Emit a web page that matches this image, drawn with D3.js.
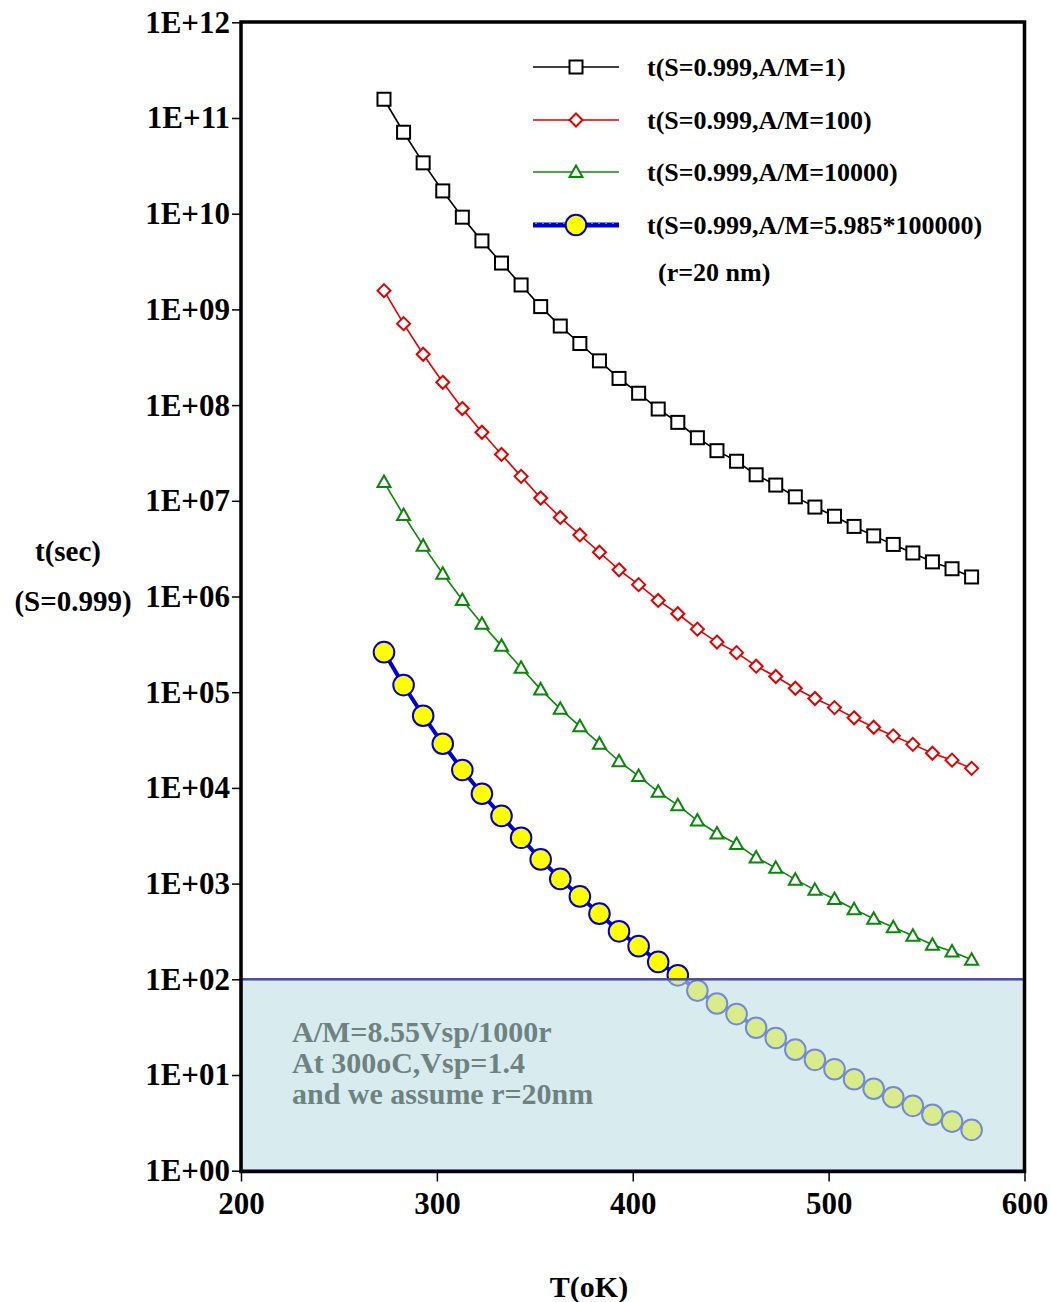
<html>
<head>
<style>
  body { margin: 0; background: #fff; }
  svg text { font-family: "Liberation Serif", "Times New Roman", serif; font-weight: bold; }
</style>
</head>
<body>
<script src="https://d3js.org/d3.v7.min.js"></script>
<svg id="chart"></svg>
<script>
// temperatures (K)
var temps = [273, 283, 293, 303, 313, 323, 333, 343, 353, 363, 373, 383, 393, 403, 413, 423,
             433, 443, 453, 463, 473, 483, 493, 503, 513, 523, 533, 543, 553, 563, 573];

// t(sec) for S=0.999
var tAM1 = [1.57e11, 7.1e10, 3.4e10, 1.73e10, 9.2e9, 5.2e9, 3.05e9, 1.8e9, 1.07e9, 6.7e8, 4.4e8,
            2.9e8, 1.9e8, 1.33e8, 9.1e7, 6.6e7, 4.56e7, 3.34e7, 2.59e7, 1.87e7, 1.46e7, 1.1e7,
            8.6e6, 6.9e6, 5.4e6, 4.3e6, 3.5e6, 2.85e6, 2.3e6, 1.95e6, 1.6e6];
var tAM100 = [1.57e9, 7.1e8, 3.4e8, 1.73e8, 9.2e7, 5.2e7, 3.05e7, 1.8e7, 1.07e7, 6.7e6, 4.4e6,
              2.9e6, 1.9e6, 1.33e6, 9.1e5, 6.6e5, 4.56e5, 3.34e5, 2.59e5, 1.87e5, 1.46e5, 1.1e5,
              8.6e4, 6.9e4, 5.4e4, 4.3e4, 3.5e4, 2.85e4, 2.3e4, 1.95e4, 1.6e4];
var tAM10000 = [1.57e7, 7.1e6, 3.4e6, 1.73e6, 9.2e5, 5.2e5, 3.05e5, 1.8e5, 1.07e5, 6.7e4, 4.4e4,
                2.9e4, 1.9e4, 1.33e4, 9.1e3, 6.6e3, 4.56e3, 3.34e3, 2.59e3, 1.87e3, 1.46e3, 1.1e3,
                860, 690, 540, 430, 350, 285, 230, 195, 160];
var tAMbig = [2.62e5, 1.186e5, 5.68e4, 2.89e4, 1.537e4, 8.69e3, 5.10e3, 3.01e3, 1.79e3, 1.12e3, 735,
              485, 317, 222, 152, 110, 76.2, 55.8, 43.3, 31.2, 24.4, 18.4,
              14.4, 11.5, 9.02, 7.18, 5.85, 4.76, 3.84, 3.26, 2.67];

var xTicks = [200, 300, 400, 500, 600];
var yExps = [0, 1, 2, 3, 4, 5, 6, 7, 8, 9, 10, 11, 12];

var legendLabels = ["t(S=0.999,A/M=1)", "t(S=0.999,A/M=100)", "t(S=0.999,A/M=10000)",
                    "t(S=0.999,A/M=5.985*100000)"];
var noteLines = ["A/M=8.55Vsp/1000r", "At 300oC,Vsp=1.4", "and we assume r=20nm"];

var width = 1050, height = 1302;
var svg = d3.select("#chart").attr("width", width).attr("height", height);

var x = d3.scaleLinear().domain([200, 600]).range([241, 1024.5]);
var y = d3.scaleLog().domain([1, 1e12]).range([1170.7, 22.3]);

var series = [
  { vals: tAM1, color: "#000000", shape: "square", lw: 1.6 },
  { vals: tAM100, color: "#e00000", shape: "diamond", lw: 1.6 },
  { vals: tAM10000, color: "#0a870a", shape: "triangle", lw: 1.6 },
  { vals: tAMbig, color: "#0000cc", shape: "circle", lw: 4 }
];

function marker(g, shape, color, cx, cy) {
  if (shape == "square") {
    g.append("rect").attr("x", cx - 6.5).attr("y", cy - 6.5).attr("width", 13).attr("height", 13)
      .attr("fill", "#fff").attr("stroke", color).attr("stroke-width", 2);
  } else if (shape == "diamond") {
    g.append("path").attr("d", "M" + cx + "," + (cy - 6.5) + "L" + (cx + 6.5) + "," + cy +
        "L" + cx + "," + (cy + 6.5) + "L" + (cx - 6.5) + "," + cy + "Z")
      .attr("fill", "#fff").attr("stroke", color).attr("stroke-width", 2);
  } else if (shape == "triangle") {
    g.append("path").attr("d", "M" + cx + "," + (cy - 6.5) + "L" + (cx + 6.5) + "," + (cy + 5) +
        "L" + (cx - 6.5) + "," + (cy + 5) + "Z")
      .attr("fill", "#fff").attr("stroke", color).attr("stroke-width", 2);
  } else {
    g.append("circle").attr("cx", cx).attr("cy", cy).attr("r", 10.3)
      .attr("fill", "#ffff00").attr("stroke", color).attr("stroke-width", 2);
  }
}

var line = d3.line().x(function(d) { return x(d[0]); }).y(function(d) { return y(d[1]); });

series.forEach(function(s) {
  var pts = temps.map(function(t, i) { return [t, s.vals[i]]; });
  svg.append("path").datum(pts).attr("d", line)
    .attr("fill", "none").attr("stroke", s.color).attr("stroke-width", s.lw);
  var g = svg.append("g");
  pts.forEach(function(p) { marker(g, s.shape, s.color, x(p[0]), y(p[1])); });
});

// shaded region below 1E+02
svg.append("rect")
  .attr("x", x(200)).attr("y", y(100))
  .attr("width", x(600) - x(200)).attr("height", y(1) - y(100))
  .attr("fill", "rgb(191,224,229)").attr("fill-opacity", 0.61)
  .attr("stroke", "#4a4aa8").attr("stroke-width", 2.5);

svg.selectAll(".note").data(noteLines).enter().append("text")
  .attr("class", "note")
  .attr("x", 292).attr("y", function(d, i) { return 1042 + i * 31; })
  .attr("font-size", 30).attr("fill", "#6f8282")
  .text(function(d) { return d; });

// legend
var lg = svg.append("g");
var legY = [67, 120, 172, 225];
series.forEach(function(s, i) {
  lg.append("line").attr("x1", 533).attr("x2", 619).attr("y1", legY[i]).attr("y2", legY[i])
    .attr("stroke", s.color).attr("stroke-width", i == 3 ? 5 : 1.6);
  if (i == 3) {
    lg.append("line").attr("x1", 535).attr("x2", 619).attr("y1", legY[i] - 1.5).attr("y2", legY[i] - 1.5)
      .attr("stroke", "#7777ff").attr("stroke-width", 1).attr("stroke-dasharray", "2,5");
  }
  marker(lg, s.shape, s.color, 576, legY[i]);
  lg.append("text").attr("x", 647).attr("y", legY[i] + 9).attr("font-size", 26)
    .text(legendLabels[i]);
});
lg.append("text").attr("x", 658).attr("y", 281).attr("font-size", 26).text("(r=20 nm)");

// axes
var yAxis = svg.append("g").attr("transform", "translate(241,0)")
  .call(d3.axisLeft(y).tickValues(yExps.map(function(e) { return Math.pow(10, e); }))
    .tickFormat(function(d) { var e = Math.round(Math.log10(d)); return "1E+" + (e < 10 ? "0" + e : e); })
    .tickSize(9).tickSizeOuter(0).tickPadding(2));
yAxis.selectAll("text").attr("font-size", 31).attr("fill", "#000").attr("font-family", null);

var xAxis = svg.append("g").attr("transform", "translate(0,1171.5)")
  .call(d3.axisBottom(x).tickValues(xTicks).tickFormat(d3.format("d"))
    .tickSize(10).tickSizeOuter(0).tickPadding(10));
xAxis.selectAll("text").attr("font-size", 31).attr("fill", "#000").attr("font-family", null);

[yAxis, xAxis].forEach(function(a) {
  a.select(".domain").remove();
  a.selectAll(".tick line").attr("stroke", "#000").attr("stroke-width", 1.5);
});

// frame
svg.append("rect").attr("x", 241).attr("y", 22).attr("width", 783.5).attr("height", 1149.5)
  .attr("fill", "none").attr("stroke", "#000").attr("stroke-width", 3.5);

// axis titles
svg.append("text").attr("x", 589).attr("y", 1297).attr("text-anchor", "middle")
  .attr("font-size", 30).text("T(oK)");
svg.append("text").attr("x", 68).attr("y", 561).attr("text-anchor", "middle")
  .attr("font-size", 29).text("t(sec)");
svg.append("text").attr("x", 73).attr("y", 611).attr("text-anchor", "middle")
  .attr("font-size", 29).text("(S=0.999)");
</script>
</body>
</html>
